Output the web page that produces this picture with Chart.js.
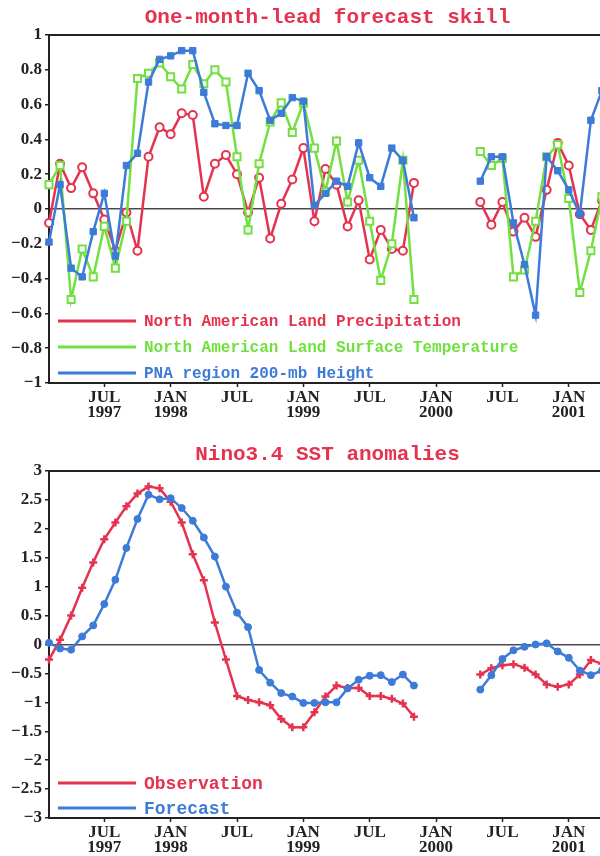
<!DOCTYPE html>
<html>
<head>
<meta charset="utf-8">
<script src="https://cdn.jsdelivr.net/npm/chart.js@4/dist/chart.umd.min.js"></script>
<style>
  html, body { margin: 0; padding: 0; background: #fff; overflow: hidden; width: 600px; height: 856px; }
  canvas { position: absolute; left: 0; }
  #skill { top: 0; }
  #nino { top: 430px; }
</style>
</head>
<body>
<canvas id="skill" width="655" height="425"></canvas>
<canvas id="nino" width="655" height="426"></canvas>
<script>
// Monthly categories, Feb 1997 .. May 2001
const months = [
  'FEB 1997','MAR 1997','APR 1997','MAY 1997','JUN 1997','JUL 1997','AUG 1997','SEP 1997','OCT 1997','NOV 1997','DEC 1997',
  'JAN 1998','FEB 1998','MAR 1998','APR 1998','MAY 1998','JUN 1998','JUL 1998','AUG 1998','SEP 1998','OCT 1998','NOV 1998','DEC 1998',
  'JAN 1999','FEB 1999','MAR 1999','APR 1999','MAY 1999','JUN 1999','JUL 1999','AUG 1999','SEP 1999','OCT 1999','NOV 1999','DEC 1999',
  'JAN 2000','FEB 2000','MAR 2000','APR 2000','MAY 2000','JUN 2000','JUL 2000','AUG 2000','SEP 2000','OCT 2000','NOV 2000','DEC 2000',
  'JAN 2001','FEB 2001','MAR 2001','APR 2001','MAY 2001'
];

// One-month-lead forecast skill (no forecasts Dec 1999 - Apr 2000)
const precipSkill = [
  -0.08, 0.26, 0.12, 0.24, 0.09, -0.06, -0.24, -0.02, -0.24, 0.30, 0.47,
  0.43, 0.55, 0.54, 0.07, 0.26, 0.31, 0.20, -0.02, 0.18, -0.17, 0.03, 0.17,
  0.35, -0.07, 0.23, 0.14, -0.10, 0.05, -0.29, -0.12, -0.23, -0.24, 0.15, null,
  null, null, null, null, 0.04, -0.09, 0.04, -0.13, -0.05, -0.16, 0.11, 0.38,
  0.25, -0.03, -0.12, 0.05, null
];
const tempSkill = [
  0.14, 0.25, -0.52, -0.23, -0.39, -0.10, -0.34, -0.07, 0.75, 0.78, 0.84,
  0.76, 0.69, 0.83, 0.72, 0.80, 0.73, 0.30, -0.12, 0.26, 0.50, 0.61, 0.44,
  0.61, 0.35, 0.10, 0.39, 0.04, 0.28, -0.07, -0.41, -0.20, 0.28, -0.52, null,
  null, null, null, null, 0.33, 0.25, 0.29, -0.39, -0.35, -0.07, 0.30, 0.37,
  0.06, -0.48, -0.24, 0.07, null
];
const pnaSkill = [
  -0.19, 0.14, -0.34, -0.39, -0.13, 0.09, -0.27, 0.25, 0.32, 0.73, 0.86,
  0.88, 0.91, 0.91, 0.67, 0.49, 0.48, 0.48, 0.78, 0.68, 0.51, 0.55, 0.64,
  0.62, 0.02, 0.09, 0.16, 0.13, 0.38, 0.18, 0.13, 0.35, 0.28, -0.05, null,
  null, null, null, null, 0.16, 0.30, 0.30, -0.08, -0.32, -0.61, 0.30, 0.22,
  0.11, -0.03, 0.51, 0.68, null
];

// Nino3.4 SST anomalies (deg C)
const ninoObserved = [
  -0.26, 0.08, 0.50, 0.98, 1.42, 1.82, 2.11, 2.39, 2.61, 2.73, 2.70,
  2.47, 2.11, 1.56, 1.11, 0.38, -0.26, -0.89, -0.96, -1.00, -1.05, -1.29, -1.43,
  -1.43, -1.17, -0.90, -0.71, -0.75, -0.75, -0.89, -0.89, -0.94, -1.02, -1.25, null,
  null, null, null, null, -0.52, -0.41, -0.36, -0.34, -0.40, -0.52, -0.69, -0.73,
  -0.69, -0.52, -0.27, -0.33, null
];
const ninoForecast = [
  0.03, -0.07, -0.09, 0.14, 0.33, 0.70, 1.12, 1.67, 2.17, 2.59, 2.51,
  2.53, 2.36, 2.14, 1.85, 1.52, 1.00, 0.55, 0.30, -0.44, -0.66, -0.84, -0.90,
  -1.01, -1.01, -1.00, -1.00, -0.76, -0.61, -0.54, -0.53, -0.65, -0.52, -0.71, null,
  null, null, null, null, -0.78, -0.53, -0.25, -0.10, -0.04, 0.00, 0.02, -0.12,
  -0.23, -0.45, -0.53, -0.45, null
];

const RED = '#e5334f';
const GREEN = '#72e040';
const BLUE = '#3d7bd8';
const INK = '#222';

// Top frame line and a panel heading centred on the full plot width
// (the plot itself runs on past the right edge of the page)
const frameTop = {
  id: 'frameTop',
  afterDraw(chart, args, opts) {
    const { ctx, chartArea: a } = chart;
    ctx.save();
    ctx.strokeStyle = INK;
    ctx.lineWidth = 2;
    ctx.beginPath();
    ctx.moveTo(a.left - 1, a.top);
    ctx.lineTo(a.right, a.top);
    ctx.stroke();
    ctx.font = 'bold 21px "Liberation Mono"';
    ctx.fillStyle = RED;
    ctx.textAlign = 'center';
    ctx.textBaseline = 'middle';
    ctx.fillText(opts.text, a.left + opts.dx, opts.y);
    ctx.restore();
  }
};

// Legend drawn inside the lower-left corner of the plot area
const insetLegend = {
  id: 'insetLegend',
  afterDatasetsDraw(chart, args, opts) {
    const { ctx, chartArea: a } = chart;
    ctx.save();
    ctx.font = opts.font;
    ctx.textBaseline = 'middle';
    ctx.textAlign = 'left';
    chart.data.datasets.forEach((ds, i) => {
      const y = a.bottom - opts.offsets[i];
      ctx.strokeStyle = ds.borderColor;
      ctx.lineWidth = 3;
      ctx.beginPath();
      ctx.moveTo(a.left + 9, y);
      ctx.lineTo(a.left + 87, y);
      ctx.stroke();
      ctx.fillStyle = ds.borderColor;
      ctx.fillText(ds.label, a.left + 95, y + 1);
    });
    ctx.restore();
  }
};

function fmt(v) {
  const r = Math.round(v * 10) / 10;
  const s = String(Math.abs(r));
  return r < 0 ? '\u2212' + s : s;
}

function makeOptions(cfg) {
  const tickFont = { family: 'Liberation Serif', weight: 'bold', size: 17, lineHeight: 0.9 };
  return {
    responsive: false,
    animation: false,
    layout: { padding: { left: 0, right: 42, top: cfg.top, bottom: 0 } },
    plugins: {
      legend: { display: false },
      tooltip: { enabled: false },
      title: { display: false },
      frameTop: { text: cfg.title, dx: 278.5, y: cfg.titleY },
      insetLegend: { font: cfg.legendFont, offsets: cfg.legendOffsets }
    },
    scales: {
      x: {
        type: 'category',
        offset: false,
        border: { display: true, color: INK, width: 2 },
        grid: { display: true, drawOnChartArea: false, drawTicks: true, tickLength: 4, tickColor: INK, tickWidth: 1.5 },
        afterBuildTicks(scale) {
          const labels = scale.getLabels();
          scale.ticks = scale.ticks.filter(t => /^(JAN|JUL)/.test(labels[t.value]));
        },
        afterFit(scale) { scale.height = cfg.xHeight; },
        ticks: {
          autoSkip: false,
          maxRotation: 0,
          padding: 3,
          color: INK,
          font: tickFont,
          callback(value, index) {
            const [m, y] = this.getLabelForValue(value).split(' ');
            return (m === 'JAN' || index === 0) ? [m, y] : m;
          }
        }
      },
      y: {
        min: cfg.ymin,
        max: cfg.ymax,
        border: { display: true, color: INK, width: 2 },
        grid: {
          drawOnChartArea: true,
          drawTicks: true,
          tickLength: 4,
          tickWidth: 1.5,
          tickColor: INK,
          lineWidth: 1.5,
          color: c => (c.tick && Math.abs(c.tick.value) < 1e-9) ? '#4a4a4a' : 'rgba(0,0,0,0)'
        },
        afterFit(scale) { scale.width = 49; },
        ticks: {
          stepSize: cfg.step,
          padding: 3,
          color: INK,
          font: tickFont,
          callback: v => fmt(v)
        }
      }
    }
  };
}

new Chart(document.getElementById('skill'), {
  type: 'line',
  data: {
    labels: months,
    datasets: [
      {
        label: 'North American Land Precipitation',
        data: precipSkill,
        borderColor: RED, borderWidth: 2.5,
        pointStyle: 'circle', pointRadius: 4, pointBorderWidth: 2,
        pointBackgroundColor: '#fff', pointBorderColor: RED,
        order: 3
      },
      {
        label: 'North American Land Surface Temperature',
        data: tempSkill,
        borderColor: GREEN, borderWidth: 2.5,
        pointStyle: 'rect', pointRadius: 5, pointBorderWidth: 2,
        pointBackgroundColor: '#fff', pointBorderColor: GREEN,
        order: 2
      },
      {
        label: 'PNA region 200-mb Height',
        data: pnaSkill,
        borderColor: BLUE, borderWidth: 2.5,
        pointStyle: 'rect', pointRadius: 4.5, pointBorderWidth: 1,
        pointBackgroundColor: BLUE, pointBorderColor: BLUE,
        order: 1
      }
    ]
  },
  options: makeOptions({
    title: 'One-month-lead forecast skill',
    top: 35, titleY: 18,
    ymin: -1, ymax: 1, step: 0.2,
    xHeight: 42,
    legendFont: 'bold 16px "Liberation Mono"',
    legendOffsets: [62, 36, 10]
  }),
  plugins: [frameTop, insetLegend]
});

new Chart(document.getElementById('nino'), {
  type: 'line',
  data: {
    labels: months,
    datasets: [
      {
        label: 'Observation',
        data: ninoObserved,
        borderColor: RED, borderWidth: 2.5,
        pointStyle: 'cross', pointRadius: 4, pointBorderWidth: 2.5,
        pointBorderColor: RED,
        order: 2
      },
      {
        label: 'Forecast',
        data: ninoForecast,
        borderColor: BLUE, borderWidth: 2.5,
        pointStyle: 'circle', pointRadius: 3.5, pointBorderWidth: 1,
        pointBackgroundColor: BLUE, pointBorderColor: BLUE,
        order: 1
      }
    ]
  },
  options: makeOptions({
    title: 'Nino3.4 SST anomalies',
    top: 41, titleY: 25,
    ymin: -3, ymax: 3, step: 0.5,
    xHeight: 38,
    legendFont: 'bold 18px "Liberation Mono"',
    legendOffsets: [35, 10]
  }),
  plugins: [frameTop, insetLegend]
});
</script>
</body>
</html>
